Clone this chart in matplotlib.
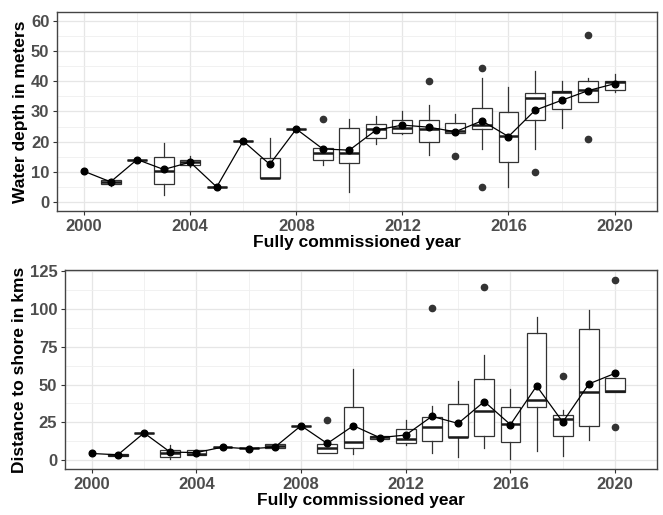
import matplotlib
matplotlib.use("Agg")
import matplotlib.pyplot as plt
from matplotlib.ticker import MultipleLocator, FuncFormatter

plt.rcParams['font.family'] = ['Liberation Sans', 'DejaVu Sans']

years = list(range(2000, 2021))
# 2000 has only a mean point, no box drawn
box_years = years[1:]

# water depth (m): box stats per year (2001-2020)
depth_q1 = [6.0, 14.1, 6.0, 12.2, 5.0, 20.2, 8.1, 24.2, 14.1, 12.8, 21.3, 23.0, 20.0, 23.0, 24.1, 13.4, 27.2, 30.7, 33.1, 37.1]
depth_med = [6.5, 14.1, 10.3, 13.3, 5.0, 20.2, 8.1, 24.2, 16.1, 16.4, 24.2, 24.5, 24.2, 23.4, 25.5, 21.9, 34.4, 36.5, 37.1, 39.9]
depth_q3 = [7.3, 14.1, 14.8, 14.0, 5.0, 20.2, 14.7, 24.2, 18.0, 24.4, 25.9, 27.2, 27.2, 26.2, 31.3, 29.9, 36.0, 36.8, 40.2, 40.2]
depth_lo = [5.4, 14.1, 2.4, 11.5, 5.0, 20.2, 8.1, 24.2, 12.3, 3.4, 19.2, 22.5, 15.5, 23.0, 17.6, 5.1, 17.6, 24.4, 33.1, 36.6]
depth_hi = [7.5, 14.1, 19.7, 15.2, 5.0, 20.2, 21.1, 24.2, 18.0, 27.4, 28.5, 30.3, 32.2, 29.3, 41.2, 38.2, 43.4, 40.2, 41.2, 42.3]
depth_out = [[], [], [], [], [], [], [], [], [27.5], [], [], [], [40.0], [15.2], [44.3, 5.0], [], [9.9], [], [55.4, 21.0], []]
# yearly means 2000-2020
depth_mean = [10.2, 6.7, 14.1, 10.8, 13.2, 5.0, 20.2, 12.5, 24.2, 17.6, 17.2, 23.8, 25.5, 24.8, 23.3, 26.9, 21.7, 30.4, 33.7, 36.9, 39.2]

# distance to shore (km)
dist_q1 = [3.0, 18.0, 2.2, 3.5, 8.6, 7.7, 8.1, 22.8, 4.6, 8.1, 14.3, 11.4, 12.8, 15.1, 15.8, 11.9, 34.9, 15.8, 22.8, 45.4]
dist_med = [3.5, 18.0, 4.4, 4.2, 8.6, 7.7, 9.5, 22.8, 7.7, 12.1, 15.0, 14.1, 21.7, 15.5, 32.7, 23.9, 39.9, 27.0, 45.4, 45.7]
dist_q3 = [4.0, 18.0, 7.0, 6.4, 8.6, 7.7, 10.5, 22.8, 10.8, 35.1, 15.8, 20.6, 28.3, 37.1, 54.0, 34.9, 84.5, 30.1, 86.6, 54.2]
dist_lo = [3.0, 18.0, 0.9, 3.0, 8.6, 7.7, 8.1, 22.8, 4.6, 4.2, 14.3, 10.1, 4.4, 2.2, 8.1, 0.9, 6.2, 2.6, 13.6, 45.4]
dist_hi = [4.0, 18.0, 10.3, 7.0, 8.6, 7.7, 10.5, 22.8, 10.8, 60.1, 15.8, 26.3, 36.0, 52.6, 69.5, 47.2, 94.7, 33.4, 99.6, 54.2]
dist_out = [[], [], [], [], [], [], [], [], [26.8], [], [], [], [101.0], [], [114.5], [], [], [55.9], [], [119.3, 22.0]]
dist_mean = [4.4, 3.5, 18.0, 5.3, 5.0, 8.6, 7.5, 8.6, 22.8, 11.0, 22.8, 14.9, 16.6, 29.0, 24.3, 38.8, 23.5, 49.1, 25.2, 50.5, 57.5]

fig = plt.figure(figsize=(6.63, 5.15), dpi=100)
ax1 = fig.add_axes([0.086, 0.590, 0.905, 0.387])
ax2 = fig.add_axes([0.098, 0.089, 0.893, 0.387])


def draw(ax, q1, med, q3, lo, hi, out, mean, ylabel, ylim, major, minor):
    stats = []
    for i in range(len(box_years)):
        stats.append({'q1': q1[i], 'med': med[i], 'q3': q3[i],
                      'whislo': lo[i], 'whishi': hi[i], 'fliers': out[i]})
    ax.bxp(stats, positions=box_years, widths=0.75, showcaps=False, patch_artist=True,
           boxprops=dict(facecolor='white', edgecolor='#333333', linewidth=0.9),
           whiskerprops=dict(color='#333333', linewidth=0.9),
           medianprops=dict(color='#1a1a1a', linewidth=1.8),
           flierprops=dict(marker='o', markerfacecolor='#333333', markeredgecolor='#333333',
                           markersize=4.5),
           zorder=2)
    ax.plot(years, mean, color='black', linewidth=0.9, marker='o', markersize=4.8, zorder=3)

    ax.set_xlim(1998.98, 2021.6)
    ax.set_ylim(*ylim)
    ax.xaxis.set_major_locator(MultipleLocator(4))
    ax.xaxis.set_minor_locator(MultipleLocator(2))
    ax.xaxis.set_major_formatter(FuncFormatter(lambda v, p: '%d' % v))
    ax.yaxis.set_major_locator(MultipleLocator(major))
    ax.yaxis.set_minor_locator(MultipleLocator(minor))
    ax.grid(which='major', color='#e6e6e6', linewidth=0.9, zorder=0)
    ax.grid(which='minor', color='#efefef', linewidth=0.6, zorder=0)
    ax.set_axisbelow(True)
    for s in ax.spines.values():
        s.set_color('#444444')
        s.set_linewidth(1.0)
    ax.tick_params(which='major', length=3, color='#333333', labelcolor='#4d4d4d',
                   labelsize=12, pad=2.5)
    ax.tick_params(which='minor', length=0)
    for lab in ax.get_xticklabels() + ax.get_yticklabels():
        lab.set_fontweight('bold')
    ax.set_xlabel('Fully commissioned year', fontsize=12.5, fontweight='bold', labelpad=1)
    ax.set_ylabel(ylabel, fontsize=12.5, fontweight='bold', labelpad=2)


draw(ax1, depth_q1, depth_med, depth_q3, depth_lo, depth_hi, depth_out, depth_mean,
     'Water depth in meters', (-3, 63), 10, 5)
draw(ax2, dist_q1, dist_med, dist_q3, dist_lo, dist_hi, dist_out, dist_mean,
     'Distance to shore in kms', (-6, 126), 25, 12.5)

fig.savefig('out.png', dpi=100)
